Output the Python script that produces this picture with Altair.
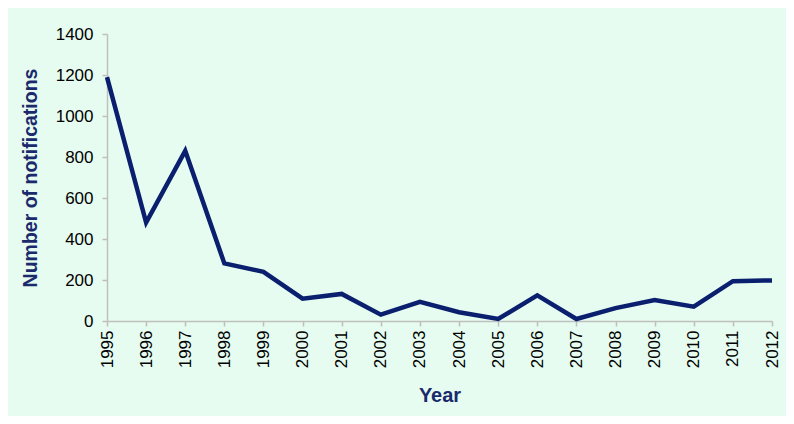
import altair as alt
import pandas as pd

years = [str(y) for y in range(1995, 2013)]
notifications = [1190, 480, 830, 281, 240, 109, 132, 31, 93, 43, 10, 125, 10, 63, 102, 70, 194, 198]

df = pd.DataFrame({"Year": years, "Notifications": notifications})

FONT = "Liberation Sans"
W, H = 665, 287

chart = alt.Chart(df).mark_line(color="#0a1f6e", strokeWidth=4.5, strokeJoin="miter").encode(
    x=alt.X("Year:O", sort=years,
            scale=alt.Scale(type="point", padding=0),
            axis=alt.Axis(title="Year", labelAngle=270, labelFontSize=17, labelFont=FONT,
                          labelColor="#000000", labelPadding=4, tickSize=5,
                          titleFont=FONT, titleFontSize=20, titleFontWeight="bold",
                          titleColor="#1a2a6c", titleY=74, titleBaseline="middle")),
    y=alt.Y("Notifications:Q",
            scale=alt.Scale(domain=[0, 1400], nice=False),
            axis=alt.Axis(title="Number of notifications", values=list(range(0, 1401, 200)),
                          format="d",
                          grid=False, labelFontSize=17, labelFont=FONT, labelColor="#000000",
                          labelPadding=9, tickSize=5,
                          titleFont=FONT, titleFontSize=19.5, titleFontWeight="bold",
                          titleColor="#1a2a6c", titleX=-77, titleY=H / 2,
                          titleBaseline="middle")),
).properties(
    width=W, height=H,
    autosize=alt.AutoSizeParams(type="none"),
    padding={"left": 99, "top": 26, "right": 14, "bottom": 95},
).configure(
    background="#e6fcf0",
).configure_view(
    stroke=None,
).configure_axis(
    domainColor="#bfbfbf", tickColor="#bfbfbf", domainWidth=1.5, tickWidth=1.5, grid=False,
)

chart.save("out.html", embed_options={"renderer": "svg", "actions": False})
